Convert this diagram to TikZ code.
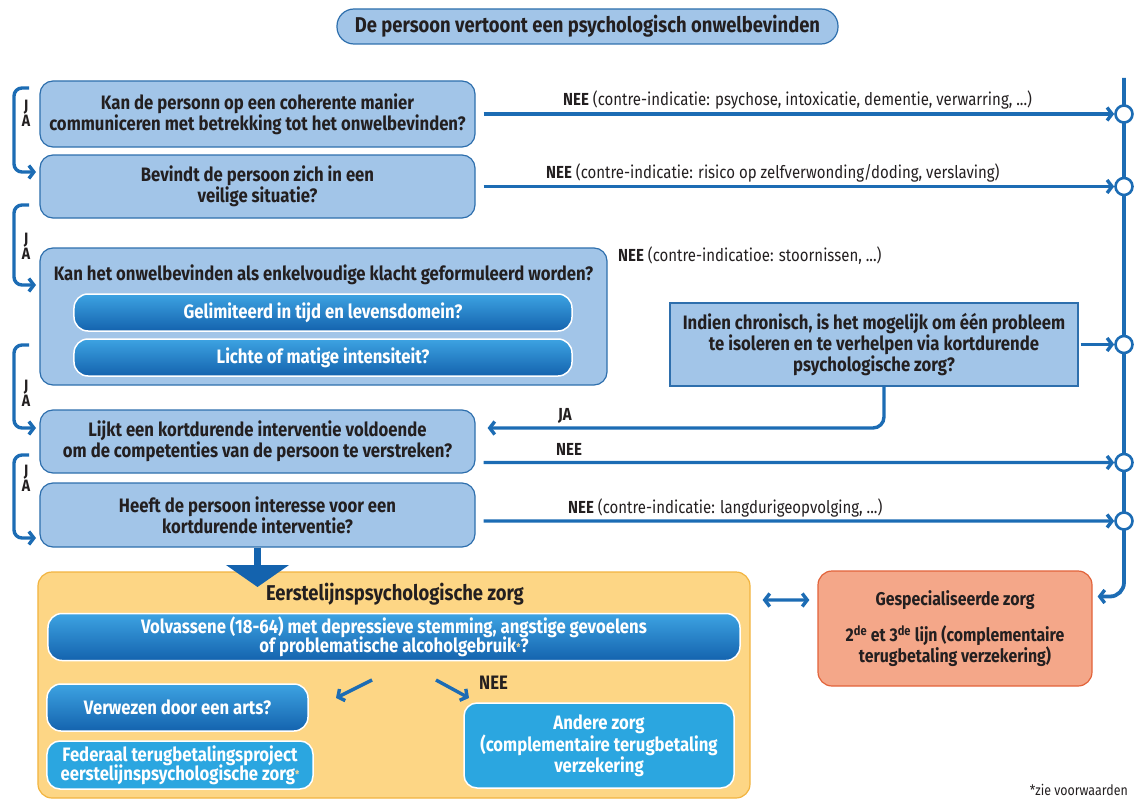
\documentclass[tikz,border=0pt]{standalone}
\usepackage{fontspec}
\setmainfont{Fira Sans}[FakeStretch=0.86]
\usetikzlibrary{arrows.meta}

\definecolor{lightfill}{HTML}{A2C5E8}
\definecolor{boxborder}{HTML}{2E6FAD}
\definecolor{lineblue}{HTML}{1C6CB4}
\definecolor{gradtop}{HTML}{3DA3E2}
\definecolor{gradbot}{HTML}{1463AE}
\definecolor{skyblue}{HTML}{2BA6E0}
\definecolor{yellowfill}{HTML}{FDD685}
\definecolor{yellowline}{HTML}{F2B440}
\definecolor{salmon}{HTML}{F4A789}
\definecolor{salmonline}{HTML}{E2633A}
\definecolor{textdark}{HTML}{231F20}
\definecolor{starcol}{HTML}{F6D9A0}

\newcommand{\qfont}{\fontsize{19.5}{21}\selectfont\bfseries}
\newcommand{\headfont}{\fontsize{21.5}{23}\selectfont\bfseries}
\newcommand{\specfont}{\fontsize{18.5}{21}\selectfont\bfseries}
\newcommand{\lblfont}{\fontsize{17.5}{19}\selectfont}
\newcommand{\footstar}{{\color{starcol}\fontsize{11}{11}\selectfont\raisebox{1.5bp}{*}}}

\tikzset{
  qbox/.style={draw=boxborder, line width=1.2bp, fill=lightfill, rounded corners=13bp,
    align=center, font=\qfont, text=textdark, inner sep=0pt},
  gbox/.style={draw=white, line width=1.5bp, rounded corners=14bp, top color=gradtop,
    bottom color=gradbot, align=center, font=\qfont, text=white, inner sep=0pt},
  sbox/.style={draw=white, line width=1.5bp, rounded corners=13bp, fill=skyblue,
    align=center, font=\qfont, text=white, inner sep=0pt},
  barb/.tip={Straight Barb[length=5bp,width=13bp,line width=3.4bp]},
  flow/.style={draw=lineblue, line width=3.4bp, -barb},
  junction/.style={circle, draw=lineblue, fill=white, line width=2.6bp,
    minimum size=17bp, inner sep=0pt},
  jalabel/.style={font=\fontsize{16.5}{13.5}\selectfont\bfseries, text=textdark,
    align=center, inner sep=0pt},
  nee/.style={font=\lblfont, text=textdark, inner sep=0pt, anchor=west},
}

\begin{document}
\begin{tikzpicture}[x=1bp, y=-1bp]
\useasboundingbox (0,0) rectangle (1134,799);

% start
\node[qbox, font=\headfont, rounded corners=17bp, minimum width=501bp, minimum height=35bp] (start)
  at (587.5,26.5) {De persoon vertoont een psychologisch onwelbevinden};

% question boxes
\node[qbox, minimum width=435bp, minimum height=66bp] (q1) at (257.5,114)
  {Kan de personn op een coherente manier\\communiceren met betrekking tot het onwelbevinden?};
\node[qbox, minimum width=435bp, minimum height=63bp] (q2) at (257.5,186.5)
  {Bevindt de persoon zich in een\\veilige situatie?};
\node[qbox, minimum width=567bp, minimum height=137bp] (q3) at (323.5,316.5) {};
\node[font=\qfont, text=textdark, inner sep=0pt] (q3t) at (323.5,275)
  {Kan het onwelbevinden als enkelvoudige klacht geformuleerd worden?};
\node[gbox, minimum width=498bp, minimum height=37bp] (g1) at (323,312.5)
  {Gelimiteerd in tijd en levensdomein?};
\node[gbox, minimum width=498bp, minimum height=37bp] (g2) at (323,357.5)
  {Lichte of matige intensiteit?};
\node[qbox, rounded corners=0pt, minimum width=408bp, minimum height=83bp] (chron) at (874,344.5)
  {Indien chronisch, is het mogelijk om één probleem\\te isoleren en te verhelpen via kortdurende\\psychologische zorg?};
\node[qbox, minimum width=435bp, minimum height=63bp] (q4) at (257.5,441.5)
  {Lijkt een kortdurende interventie voldoende\\om de competenties van de persoon te verstreken?};
\node[qbox, minimum width=435bp, minimum height=64bp] (q5) at (257.5,515)
  {Heeft de persoon interesse voor een\\kortdurende interventie?};

% specialised care and the collector line on the right
\coordinate (vtop) at (1124,78);
\node[draw=salmonline, line width=1.2bp, fill=salmon, rounded corners=14bp,
  minimum width=274bp, minimum height=115bp, align=center, font=\specfont, text=textdark,
  inner sep=0pt] (spec) at (955,628.5)
  {Gespecialiseerde zorg\\[15bp]2\textsuperscript{de} et 3\textsuperscript{de} lijn (complementaire\\terugbetaling verzekering)};
\draw[flow, line width=3.8bp, rounded corners=14bp] (vtop) |- ([xshift=5bp,yshift=32bp]spec.east);

\node[junction] (j1) at (1124,114) {};
\node[junction] (j2) at (1124,186.5) {};
\node[junction] (j3) at (1124,344.5) {};
\node[junction] (j4) at (1124,462.5) {};
\node[junction] (j5) at (1124,521) {};

% NEE branches
\draw[flow] ([xshift=8bp]q1.east) -- (j1.west);
\draw[flow] ([xshift=8bp]q2.east) -- (j2.west);
\draw[flow] ([xshift=2bp]chron.east) -- (j3.west);
\draw[flow] ([xshift=8bp,yshift=-21bp]q4.east) -- (j4.west);
\draw[flow] ([xshift=8bp,yshift=-6bp]q5.east) -- (j5.west);

\node[nee] (l1) at (563,100) {\textbf{NEE} (contre-indicatie: psychose, intoxicatie, dementie, verwarring, ...)};
\node[nee] (l2) at (546,173) {\textbf{NEE} (contre-indicatie: risico op zelfverwonding/doding, verslaving)};
\node[nee] (l3) at (618,256) {\textbf{NEE} (contre-indicatioe: stoornissen, ...)};
\node[nee] (l4) at (556,449) {\textbf{NEE}};
\node[nee] (l5) at (568,508) {\textbf{NEE} (contre-indicatie: langdurigeopvolging, ...)};

% JA return from the chronic question
\draw[flow, rounded corners=11bp] ([xshift=10bp]chron.south) |- ([xshift=12bp,yshift=13.5bp]q4.east);
\node[nee] (l6) at (558,416) {\textbf{JA}};

% JA brackets on the left
\coordinate (b1) at (36,172);
\coordinate (b2) at (36,285);
\coordinate (b3) at (36,428);
\coordinate (b4) at (36,538);
\draw[flow, rounded corners=8bp] (29,88) -- (14,88) -- (14,172) -- (b1);
\draw[flow, rounded corners=8bp] (29,205) -- (14,205) -- (14,285) -- (b2);
\draw[flow, rounded corners=8bp] (29,345) -- (14,345) -- (14,428) -- (b3);
\draw[flow, rounded corners=8bp] (29,455) -- (14,455) -- (14,538) -- (b4);
\node[jalabel] (ja1) at (26,113) {J\\A};
\node[jalabel] (ja2) at (26,246) {J\\A};
\node[jalabel] (ja3) at (26,393) {J\\A};
\node[jalabel] (ja4) at (26,478) {J\\A};

% first-line care
\node[draw=yellowline, line width=1.2bp, fill=yellowfill, rounded corners=14bp,
  minimum width=712bp, minimum height=226bp, inner sep=0pt] (zorg) at (394,685) {};
\node[font=\headfont, text=textdark, inner sep=0pt] (zorgt) at (395,594) {Eerstelijnspsychologische zorg};
\draw[draw=gradbot, line width=7bp, -{Triangle[length=22bp,width=62bp]}]
  (q5.south) -- (257.5,587);

\node[gbox, minimum width=692bp, minimum height=47bp] (vol) at (394,637)
  {Volvassene (18-64) met depressieve stemming, angstige gevoelens\\[-2bp]of problematische alcoholgebruik\footstar?};
\node[gbox, minimum width=261bp, minimum height=47bp] (arts) at (177.5,707.5)
  {Verwezen door een arts?};
\node[sbox, minimum width=266bp, minimum height=48bp] (fed) at (180,765)
  {Federaal terugbetalingsproject\\[-2bp]eerstelijnspsychologische zorg\footstar};
\node[sbox, minimum width=270bp, minimum height=85bp] (andere) at (599,745.5)
  {Andere zorg\\(complementaire terugbetaling\\verzekering};

\coordinate (dl) at (336,698);
\coordinate (dr) at (469,698);
\draw[flow] (372,680) -- (dl);
\draw[flow] (436,680) -- (dr);
\node[nee, font=\qfont] (l7) at (479,683) {NEE};

\draw[flow, barb-barb] ([xshift=12bp,yshift=85bp]zorg.east) -- ([xshift=-8bp,yshift=28.5bp]spec.west);

\node[font=\fontsize{14.5}{16}\selectfont, text=textdark, anchor=east, inner sep=0pt] (note)
  at (1128,790) {*zie voorwaarden};
\end{tikzpicture}
\end{document}
